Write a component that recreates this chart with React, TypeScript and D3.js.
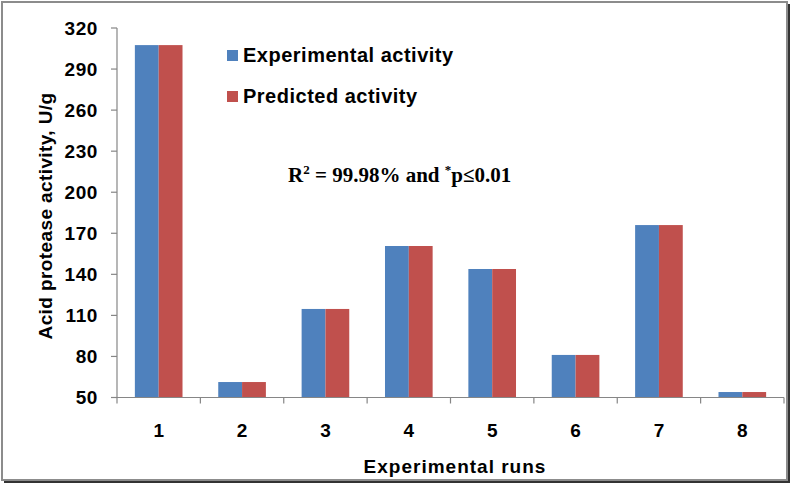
import React from "react";
import * as d3 from "d3";

const runs = ["1", "2", "3", "4", "5", "6", "7", "8"];
const experimental = [307.5, 61.3, 114.7, 160.7, 143.9, 81.1, 176.0, 54.0];
const predicted = [307.5, 61.3, 114.7, 160.7, 143.9, 81.1, 176.0, 54.0];
const yTicks = [50, 80, 110, 140, 170, 200, 230, 260, 290, 320];
const seriesNames = ["Experimental activity", "Predicted activity"];
const colors = ["#4F81BD", "#C0504D"];

const W = 792;
const H = 486;
const margin = { top: 28, right: 8, bottom: 88, left: 117 };

const App: React.FC = () => {
  const plotRight = 784;
  const plotBottom = 397.5;

  const x = d3
    .scaleBand<string>()
    .domain(runs)
    .range([margin.left, plotRight])
    .paddingInner(0.4286)
    .paddingOuter(0.2143);

  const step = x.step();
  const barW = step * 0.2857;

  const y = d3.scaleLinear().domain([50, 320]).range([plotBottom, margin.top]);

  const axisColor = "#868686";
  const sans = "'Liberation Sans', Arial, sans-serif";

  const seriesData = [experimental, predicted];

  return (
    <svg
      width={W}
      height={H}
      style={{ position: "absolute", left: 0, top: 0, background: "#fff" }}
    >
      {/* outer frame with shadow */}
      <rect x={4} y={4} width={786} height={479} fill="#333" />
      <rect x={2} y={2} width={785} height={478} fill="#fff" stroke="#8c8c8c" strokeWidth={2} />

      {/* bars */}
      {seriesData.map((vals, s) =>
        vals.map((v, i) => (
          <rect
            key={`${s}-${i}`}
            x={(x(runs[i]) as number) + s * barW}
            y={y(v)}
            width={barW}
            height={plotBottom - y(v)}
            fill={colors[s]}
          />
        ))
      )}

      {/* y axis */}
      <line x1={margin.left} x2={margin.left} y1={margin.top} y2={plotBottom} stroke={axisColor} strokeWidth={1.2} />
      {yTicks.map((t) => (
        <g key={t}>
          <line x1={margin.left - 6} x2={margin.left} y1={y(t)} y2={y(t)} stroke={axisColor} strokeWidth={1.2} />
          <text
            x={98}
            y={y(t)}
            dy="0.36em"
            textAnchor="end"
            fontFamily={sans}
            fontWeight="bold"
            fontSize={19}
            letterSpacing={0.6}
          >
            {t}
          </text>
        </g>
      ))}

      {/* x axis */}
      <line x1={margin.left - 6} x2={plotRight} y1={plotBottom} y2={plotBottom} stroke={axisColor} strokeWidth={1.2} />
      {[...runs.map((r) => (x(r) as number) - (step - x.bandwidth()) / 2), plotRight].map((px, i) => (
        <line key={i} x1={px} x2={px} y1={plotBottom} y2={plotBottom + 6} stroke={axisColor} strokeWidth={1.2} />
      ))}
      {runs.map((r) => (
        <text
          key={r}
          x={(x(r) as number) + x.bandwidth() / 2}
          y={437}
          textAnchor="middle"
          fontFamily={sans}
          fontWeight="bold"
          fontSize={19}
        >
          {r}
        </text>
      ))}

      {/* axis titles */}
      <text
        x={455}
        y={473}
        textAnchor="middle"
        fontFamily={sans}
        fontWeight="bold"
        fontSize={19}
        letterSpacing={1}
      >
        Experimental runs
      </text>
      <text
        transform={`translate(52,${216}) rotate(-90)`}
        textAnchor="middle"
        fontFamily={sans}
        fontWeight="bold"
        fontSize={19}
        letterSpacing={0.4}
      >
        Acid protease activity, U/g
      </text>

      {/* legend */}
      {seriesNames.map((name, i) => (
        <g key={name} transform={`translate(227,${55 + i * 41})`}>
          <rect x={0} y={-5} width={11} height={11} fill={colors[i]} />
          <text x={16} y={0} dy="0.36em" fontFamily={sans} fontWeight="bold" fontSize={20} letterSpacing={0.5}>
            {name}
          </text>
        </g>
      ))}

      {/* annotation */}
      <text x={288} y={182} fontFamily="'Liberation Serif', 'Times New Roman', serif" fontWeight="bold" fontSize={21}>
        R
        <tspan fontSize={13} dy={-8}>2</tspan>
        <tspan dy={8}> = 99.98% and </tspan>
        <tspan fontSize={13} dy={-8}>*</tspan>
        <tspan dy={8}>p≤0.01</tspan>
      </text>
    </svg>
  );
};

export default App;
